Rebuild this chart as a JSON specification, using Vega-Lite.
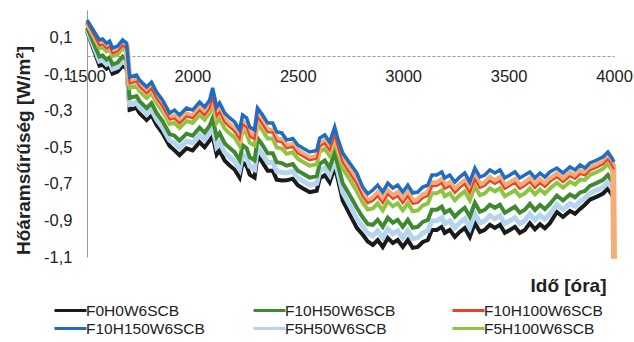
{
"$schema": "https://vega.github.io/schema/vega-lite/v6.json",
"autosize": {"type": "none"},
"padding": {"left": 87, "top": 10, "right": 20, "bottom": 85},
"width": 527,
"height": 247,
"background": "white",
"config": {"font": "Liberation Sans", "view": {"stroke": null}},
"datasets": {
"b": [{"x":1500,"y":0.195},{"x":1559,"y":0.086},{"x":1574,"y":0.091},{"x":1593,"y":0.069},{"x":1607,"y":0.080},{"x":1621,"y":0.042},{"x":1645,"y":0.053},{"x":1669,"y":0.086},{"x":1688,"y":0.069},{"x":1702,"y":-0.116},{"x":1735,"y":-0.105},{"x":1749,"y":-0.133},{"x":1783,"y":-0.171},{"x":1806,"y":-0.144},{"x":1830,"y":-0.198},{"x":1858,"y":-0.242},{"x":1892,"y":-0.313},{"x":1915,"y":-0.297},{"x":1939,"y":-0.324},{"x":1972,"y":-0.286},{"x":2001,"y":-0.297},{"x":2034,"y":-0.253},{"x":2058,"y":-0.280},{"x":2082,"y":-0.242},{"x":2096,"y":-0.176},{"x":2115,"y":-0.280},{"x":2129,"y":-0.258},{"x":2153,"y":-0.313},{"x":2177,"y":-0.340},{"x":2200,"y":-0.362},{"x":2224,"y":-0.406},{"x":2238,"y":-0.324},{"x":2257,"y":-0.340},{"x":2272,"y":-0.390},{"x":2295,"y":-0.406},{"x":2309,"y":-0.286},{"x":2333,"y":-0.324},{"x":2357,"y":-0.368},{"x":2381,"y":-0.368},{"x":2400,"y":-0.417},{"x":2424,"y":-0.422},{"x":2447,"y":-0.461},{"x":2476,"y":-0.452},{"x":2500,"y":-0.488},{"x":2523,"y":-0.504},{"x":2556,"y":-0.526},{"x":2590,"y":-0.518},{"x":2604,"y":-0.450},{"x":2628,"y":-0.433},{"x":2651,"y":-0.472},{"x":2675,"y":-0.390},{"x":2689,"y":-0.450},{"x":2713,"y":-0.532},{"x":2746,"y":-0.586},{"x":2780,"y":-0.641},{"x":2808,"y":-0.718},{"x":2832,"y":-0.755},{"x":2856,"y":-0.734},{"x":2879,"y":-0.707},{"x":2903,"y":-0.745},{"x":2927,"y":-0.696},{"x":2951,"y":-0.723},{"x":2974,"y":-0.707},{"x":2998,"y":-0.745},{"x":3022,"y":-0.707},{"x":3045,"y":-0.750},{"x":3069,"y":-0.745},{"x":3093,"y":-0.718},{"x":3117,"y":-0.707},{"x":3136,"y":-0.652},{"x":3159,"y":-0.652},{"x":3183,"y":-0.635},{"x":3197,"y":-0.668},{"x":3221,"y":-0.652},{"x":3245,"y":-0.690},{"x":3268,"y":-0.663},{"x":3292,"y":-0.641},{"x":3316,"y":-0.690},{"x":3340,"y":-0.614},{"x":3364,"y":-0.663},{"x":3387,"y":-0.652},{"x":3411,"y":-0.624},{"x":3435,"y":-0.641},{"x":3459,"y":-0.624},{"x":3482,"y":-0.668},{"x":3506,"y":-0.652},{"x":3530,"y":-0.635},{"x":3553,"y":-0.668},{"x":3577,"y":-0.652},{"x":3601,"y":-0.635},{"x":3625,"y":-0.668},{"x":3649,"y":-0.641},{"x":3672,"y":-0.663},{"x":3696,"y":-0.635},{"x":3729,"y":-0.614},{"x":3758,"y":-0.641},{"x":3791,"y":-0.608},{"x":3815,"y":-0.624},{"x":3839,"y":-0.597},{"x":3862,"y":-0.614},{"x":3886,"y":-0.586},{"x":3919,"y":-0.570},{"x":3948,"y":-0.553},{"x":3971,"y":-0.526},{"x":3990,"y":-0.559},{"x":4000,"y":-0.581}],
"p": [{"x":1500,"y":0.185},{"x":1559,"y":0.066},{"x":1574,"y":0.071},{"x":1593,"y":0.049},{"x":1607,"y":0.060},{"x":1621,"y":0.022},{"x":1645,"y":0.033},{"x":1669,"y":0.066},{"x":1688,"y":0.049},{"x":1702,"y":-0.146},{"x":1735,"y":-0.135},{"x":1749,"y":-0.163},{"x":1783,"y":-0.201},{"x":1806,"y":-0.174},{"x":1830,"y":-0.228},{"x":1858,"y":-0.272},{"x":1892,"y":-0.343},{"x":1915,"y":-0.332},{"x":1939,"y":-0.359},{"x":1972,"y":-0.321},{"x":2001,"y":-0.332},{"x":2034,"y":-0.288},{"x":2058,"y":-0.315},{"x":2082,"y":-0.277},{"x":2096,"y":-0.216},{"x":2115,"y":-0.320},{"x":2129,"y":-0.298},{"x":2153,"y":-0.353},{"x":2177,"y":-0.380},{"x":2200,"y":-0.402},{"x":2224,"y":-0.446},{"x":2238,"y":-0.364},{"x":2257,"y":-0.380},{"x":2272,"y":-0.430},{"x":2295,"y":-0.446},{"x":2309,"y":-0.326},{"x":2333,"y":-0.364},{"x":2357,"y":-0.408},{"x":2381,"y":-0.408},{"x":2400,"y":-0.457},{"x":2424,"y":-0.462},{"x":2447,"y":-0.496},{"x":2476,"y":-0.487},{"x":2500,"y":-0.523},{"x":2523,"y":-0.539},{"x":2556,"y":-0.561},{"x":2590,"y":-0.553},{"x":2604,"y":-0.485},{"x":2628,"y":-0.468},{"x":2651,"y":-0.507},{"x":2675,"y":-0.425},{"x":2689,"y":-0.485},{"x":2713,"y":-0.572},{"x":2746,"y":-0.626},{"x":2780,"y":-0.686},{"x":2808,"y":-0.758},{"x":2832,"y":-0.795},{"x":2856,"y":-0.779},{"x":2879,"y":-0.752},{"x":2903,"y":-0.790},{"x":2927,"y":-0.741},{"x":2951,"y":-0.768},{"x":2974,"y":-0.752},{"x":2998,"y":-0.790},{"x":3022,"y":-0.752},{"x":3045,"y":-0.795},{"x":3069,"y":-0.790},{"x":3093,"y":-0.763},{"x":3117,"y":-0.752},{"x":3136,"y":-0.697},{"x":3159,"y":-0.697},{"x":3183,"y":-0.680},{"x":3197,"y":-0.713},{"x":3221,"y":-0.697},{"x":3245,"y":-0.735},{"x":3268,"y":-0.708},{"x":3292,"y":-0.686},{"x":3316,"y":-0.735},{"x":3340,"y":-0.659},{"x":3364,"y":-0.708},{"x":3387,"y":-0.697},{"x":3411,"y":-0.669},{"x":3435,"y":-0.686},{"x":3459,"y":-0.669},{"x":3482,"y":-0.713},{"x":3506,"y":-0.697},{"x":3530,"y":-0.680},{"x":3553,"y":-0.713},{"x":3577,"y":-0.697},{"x":3601,"y":-0.675},{"x":3625,"y":-0.708},{"x":3649,"y":-0.681},{"x":3672,"y":-0.703},{"x":3696,"y":-0.675},{"x":3729,"y":-0.649},{"x":3758,"y":-0.676},{"x":3791,"y":-0.643},{"x":3815,"y":-0.659},{"x":3839,"y":-0.632},{"x":3862,"y":-0.644},{"x":3886,"y":-0.616},{"x":3919,"y":-0.600},{"x":3948,"y":-0.583},{"x":3971,"y":-0.556},{"x":3990,"y":-0.589},{"x":3996,"y":-0.600},{"x":4000,"y":-1.11}],
"r": [{"x":1500,"y":0.183},{"x":1559,"y":0.056},{"x":1574,"y":0.061},{"x":1593,"y":0.039},{"x":1607,"y":0.050},{"x":1621,"y":0.012},{"x":1645,"y":0.023},{"x":1669,"y":0.056},{"x":1688,"y":0.039},{"x":1702,"y":-0.151},{"x":1735,"y":-0.140},{"x":1749,"y":-0.168},{"x":1783,"y":-0.206},{"x":1806,"y":-0.179},{"x":1830,"y":-0.233},{"x":1858,"y":-0.277},{"x":1892,"y":-0.348},{"x":1915,"y":-0.342},{"x":1939,"y":-0.369},{"x":1972,"y":-0.331},{"x":2001,"y":-0.342},{"x":2034,"y":-0.298},{"x":2058,"y":-0.325},{"x":2082,"y":-0.287},{"x":2096,"y":-0.226},{"x":2115,"y":-0.330},{"x":2129,"y":-0.308},{"x":2153,"y":-0.363},{"x":2177,"y":-0.390},{"x":2200,"y":-0.412},{"x":2224,"y":-0.456},{"x":2238,"y":-0.374},{"x":2257,"y":-0.390},{"x":2272,"y":-0.440},{"x":2295,"y":-0.456},{"x":2309,"y":-0.336},{"x":2333,"y":-0.374},{"x":2357,"y":-0.418},{"x":2381,"y":-0.418},{"x":2400,"y":-0.467},{"x":2424,"y":-0.472},{"x":2447,"y":-0.506},{"x":2476,"y":-0.497},{"x":2500,"y":-0.533},{"x":2523,"y":-0.549},{"x":2556,"y":-0.571},{"x":2590,"y":-0.563},{"x":2604,"y":-0.495},{"x":2628,"y":-0.478},{"x":2651,"y":-0.517},{"x":2675,"y":-0.435},{"x":2689,"y":-0.495},{"x":2713,"y":-0.582},{"x":2746,"y":-0.641},{"x":2780,"y":-0.701},{"x":2808,"y":-0.768},{"x":2832,"y":-0.805},{"x":2856,"y":-0.794},{"x":2879,"y":-0.767},{"x":2903,"y":-0.805},{"x":2927,"y":-0.756},{"x":2951,"y":-0.783},{"x":2974,"y":-0.767},{"x":2998,"y":-0.805},{"x":3022,"y":-0.767},{"x":3045,"y":-0.810},{"x":3069,"y":-0.805},{"x":3093,"y":-0.778},{"x":3117,"y":-0.767},{"x":3136,"y":-0.712},{"x":3159,"y":-0.712},{"x":3183,"y":-0.695},{"x":3197,"y":-0.728},{"x":3221,"y":-0.712},{"x":3245,"y":-0.750},{"x":3268,"y":-0.723},{"x":3292,"y":-0.701},{"x":3316,"y":-0.750},{"x":3340,"y":-0.674},{"x":3364,"y":-0.723},{"x":3387,"y":-0.712},{"x":3411,"y":-0.684},{"x":3435,"y":-0.701},{"x":3459,"y":-0.684},{"x":3482,"y":-0.728},{"x":3506,"y":-0.712},{"x":3530,"y":-0.695},{"x":3553,"y":-0.728},{"x":3577,"y":-0.712},{"x":3601,"y":-0.690},{"x":3625,"y":-0.723},{"x":3649,"y":-0.696},{"x":3672,"y":-0.718},{"x":3696,"y":-0.690},{"x":3729,"y":-0.664},{"x":3758,"y":-0.691},{"x":3791,"y":-0.658},{"x":3815,"y":-0.674},{"x":3839,"y":-0.647},{"x":3862,"y":-0.654},{"x":3886,"y":-0.626},{"x":3919,"y":-0.610},{"x":3948,"y":-0.593},{"x":3971,"y":-0.566},{"x":3990,"y":-0.599},{"x":4000,"y":-0.621}],
"g": [{"x":1500,"y":0.175},{"x":1559,"y":0.041},{"x":1574,"y":0.046},{"x":1593,"y":0.024},{"x":1607,"y":0.035},{"x":1621,"y":-0.003},{"x":1645,"y":0.008},{"x":1669,"y":0.041},{"x":1688,"y":0.024},{"x":1702,"y":-0.176},{"x":1735,"y":-0.165},{"x":1749,"y":-0.193},{"x":1783,"y":-0.231},{"x":1806,"y":-0.204},{"x":1830,"y":-0.258},{"x":1858,"y":-0.302},{"x":1892,"y":-0.373},{"x":1915,"y":-0.367},{"x":1939,"y":-0.394},{"x":1972,"y":-0.356},{"x":2001,"y":-0.367},{"x":2034,"y":-0.323},{"x":2058,"y":-0.350},{"x":2082,"y":-0.312},{"x":2096,"y":-0.261},{"x":2115,"y":-0.365},{"x":2129,"y":-0.343},{"x":2153,"y":-0.398},{"x":2177,"y":-0.425},{"x":2200,"y":-0.447},{"x":2224,"y":-0.491},{"x":2238,"y":-0.409},{"x":2257,"y":-0.425},{"x":2272,"y":-0.475},{"x":2295,"y":-0.491},{"x":2309,"y":-0.371},{"x":2333,"y":-0.409},{"x":2357,"y":-0.453},{"x":2381,"y":-0.453},{"x":2400,"y":-0.502},{"x":2424,"y":-0.507},{"x":2447,"y":-0.536},{"x":2476,"y":-0.527},{"x":2500,"y":-0.563},{"x":2523,"y":-0.579},{"x":2556,"y":-0.601},{"x":2590,"y":-0.593},{"x":2604,"y":-0.525},{"x":2628,"y":-0.508},{"x":2651,"y":-0.547},{"x":2675,"y":-0.465},{"x":2689,"y":-0.525},{"x":2713,"y":-0.617},{"x":2746,"y":-0.676},{"x":2780,"y":-0.741},{"x":2808,"y":-0.803},{"x":2832,"y":-0.840},{"x":2856,"y":-0.834},{"x":2879,"y":-0.807},{"x":2903,"y":-0.845},{"x":2927,"y":-0.796},{"x":2951,"y":-0.823},{"x":2974,"y":-0.807},{"x":2998,"y":-0.845},{"x":3022,"y":-0.807},{"x":3045,"y":-0.850},{"x":3069,"y":-0.845},{"x":3093,"y":-0.818},{"x":3117,"y":-0.807},{"x":3136,"y":-0.752},{"x":3159,"y":-0.752},{"x":3183,"y":-0.735},{"x":3197,"y":-0.768},{"x":3221,"y":-0.752},{"x":3245,"y":-0.790},{"x":3268,"y":-0.763},{"x":3292,"y":-0.741},{"x":3316,"y":-0.790},{"x":3340,"y":-0.714},{"x":3364,"y":-0.763},{"x":3387,"y":-0.752},{"x":3411,"y":-0.724},{"x":3435,"y":-0.741},{"x":3459,"y":-0.724},{"x":3482,"y":-0.768},{"x":3506,"y":-0.752},{"x":3530,"y":-0.735},{"x":3553,"y":-0.768},{"x":3577,"y":-0.752},{"x":3601,"y":-0.725},{"x":3625,"y":-0.758},{"x":3649,"y":-0.731},{"x":3672,"y":-0.753},{"x":3696,"y":-0.725},{"x":3729,"y":-0.694},{"x":3758,"y":-0.721},{"x":3791,"y":-0.688},{"x":3815,"y":-0.704},{"x":3839,"y":-0.677},{"x":3862,"y":-0.679},{"x":3886,"y":-0.651},{"x":3919,"y":-0.635},{"x":3948,"y":-0.618},{"x":3971,"y":-0.591},{"x":3990,"y":-0.624},{"x":4000,"y":-0.646}],
"d": [{"x":1500,"y":0.155},{"x":1559,"y":-0.004},{"x":1574,"y":0.001},{"x":1593,"y":-0.021},{"x":1607,"y":-0.010},{"x":1621,"y":-0.048},{"x":1645,"y":-0.037},{"x":1669,"y":-0.004},{"x":1688,"y":-0.021},{"x":1702,"y":-0.231},{"x":1735,"y":-0.220},{"x":1749,"y":-0.248},{"x":1783,"y":-0.286},{"x":1806,"y":-0.259},{"x":1830,"y":-0.313},{"x":1858,"y":-0.357},{"x":1892,"y":-0.428},{"x":1915,"y":-0.437},{"x":1939,"y":-0.464},{"x":1972,"y":-0.426},{"x":2001,"y":-0.437},{"x":2034,"y":-0.393},{"x":2058,"y":-0.420},{"x":2082,"y":-0.382},{"x":2096,"y":-0.341},{"x":2115,"y":-0.445},{"x":2129,"y":-0.423},{"x":2153,"y":-0.478},{"x":2177,"y":-0.505},{"x":2200,"y":-0.527},{"x":2224,"y":-0.571},{"x":2238,"y":-0.489},{"x":2257,"y":-0.505},{"x":2272,"y":-0.555},{"x":2295,"y":-0.571},{"x":2309,"y":-0.451},{"x":2333,"y":-0.489},{"x":2357,"y":-0.533},{"x":2381,"y":-0.533},{"x":2400,"y":-0.582},{"x":2424,"y":-0.587},{"x":2447,"y":-0.601},{"x":2476,"y":-0.592},{"x":2500,"y":-0.628},{"x":2523,"y":-0.644},{"x":2556,"y":-0.666},{"x":2590,"y":-0.658},{"x":2604,"y":-0.590},{"x":2628,"y":-0.573},{"x":2651,"y":-0.612},{"x":2675,"y":-0.530},{"x":2689,"y":-0.590},{"x":2713,"y":-0.697},{"x":2746,"y":-0.761},{"x":2780,"y":-0.831},{"x":2808,"y":-0.883},{"x":2832,"y":-0.920},{"x":2856,"y":-0.924},{"x":2879,"y":-0.897},{"x":2903,"y":-0.935},{"x":2927,"y":-0.886},{"x":2951,"y":-0.913},{"x":2974,"y":-0.897},{"x":2998,"y":-0.935},{"x":3022,"y":-0.897},{"x":3045,"y":-0.940},{"x":3069,"y":-0.935},{"x":3093,"y":-0.908},{"x":3117,"y":-0.897},{"x":3136,"y":-0.842},{"x":3159,"y":-0.842},{"x":3183,"y":-0.825},{"x":3197,"y":-0.858},{"x":3221,"y":-0.842},{"x":3245,"y":-0.880},{"x":3268,"y":-0.853},{"x":3292,"y":-0.831},{"x":3316,"y":-0.880},{"x":3340,"y":-0.804},{"x":3364,"y":-0.853},{"x":3387,"y":-0.842},{"x":3411,"y":-0.814},{"x":3435,"y":-0.831},{"x":3459,"y":-0.814},{"x":3482,"y":-0.858},{"x":3506,"y":-0.842},{"x":3530,"y":-0.825},{"x":3553,"y":-0.858},{"x":3577,"y":-0.842},{"x":3601,"y":-0.810},{"x":3625,"y":-0.843},{"x":3649,"y":-0.816},{"x":3672,"y":-0.838},{"x":3696,"y":-0.810},{"x":3729,"y":-0.764},{"x":3758,"y":-0.791},{"x":3791,"y":-0.758},{"x":3815,"y":-0.774},{"x":3839,"y":-0.747},{"x":3862,"y":-0.739},{"x":3886,"y":-0.711},{"x":3919,"y":-0.695},{"x":3948,"y":-0.678},{"x":3971,"y":-0.651},{"x":3990,"y":-0.684},{"x":4000,"y":-0.706}],
"l": [{"x":1500,"y":0.145},{"x":1559,"y":-0.029},{"x":1574,"y":-0.024},{"x":1593,"y":-0.046},{"x":1607,"y":-0.035},{"x":1621,"y":-0.073},{"x":1645,"y":-0.062},{"x":1669,"y":-0.029},{"x":1688,"y":-0.046},{"x":1702,"y":-0.266},{"x":1735,"y":-0.255},{"x":1749,"y":-0.283},{"x":1783,"y":-0.321},{"x":1806,"y":-0.294},{"x":1830,"y":-0.348},{"x":1858,"y":-0.392},{"x":1892,"y":-0.463},{"x":1915,"y":-0.477},{"x":1939,"y":-0.504},{"x":1972,"y":-0.466},{"x":2001,"y":-0.477},{"x":2034,"y":-0.433},{"x":2058,"y":-0.460},{"x":2082,"y":-0.422},{"x":2096,"y":-0.391},{"x":2115,"y":-0.495},{"x":2129,"y":-0.473},{"x":2153,"y":-0.528},{"x":2177,"y":-0.555},{"x":2200,"y":-0.577},{"x":2224,"y":-0.621},{"x":2238,"y":-0.539},{"x":2257,"y":-0.555},{"x":2272,"y":-0.605},{"x":2295,"y":-0.621},{"x":2309,"y":-0.501},{"x":2333,"y":-0.539},{"x":2357,"y":-0.583},{"x":2381,"y":-0.583},{"x":2400,"y":-0.632},{"x":2424,"y":-0.637},{"x":2447,"y":-0.641},{"x":2476,"y":-0.632},{"x":2500,"y":-0.668},{"x":2523,"y":-0.684},{"x":2556,"y":-0.706},{"x":2590,"y":-0.698},{"x":2604,"y":-0.630},{"x":2628,"y":-0.613},{"x":2651,"y":-0.652},{"x":2675,"y":-0.570},{"x":2689,"y":-0.630},{"x":2713,"y":-0.747},{"x":2746,"y":-0.816},{"x":2780,"y":-0.891},{"x":2808,"y":-0.933},{"x":2832,"y":-0.970},{"x":2856,"y":-0.984},{"x":2879,"y":-0.957},{"x":2903,"y":-0.995},{"x":2927,"y":-0.946},{"x":2951,"y":-0.973},{"x":2974,"y":-0.957},{"x":2998,"y":-0.995},{"x":3022,"y":-0.957},{"x":3045,"y":-1.000},{"x":3069,"y":-0.995},{"x":3093,"y":-0.968},{"x":3117,"y":-0.957},{"x":3136,"y":-0.902},{"x":3159,"y":-0.902},{"x":3183,"y":-0.885},{"x":3197,"y":-0.918},{"x":3221,"y":-0.902},{"x":3245,"y":-0.940},{"x":3268,"y":-0.913},{"x":3292,"y":-0.891},{"x":3316,"y":-0.940},{"x":3340,"y":-0.864},{"x":3364,"y":-0.913},{"x":3387,"y":-0.902},{"x":3411,"y":-0.874},{"x":3435,"y":-0.891},{"x":3459,"y":-0.874},{"x":3482,"y":-0.918},{"x":3506,"y":-0.902},{"x":3530,"y":-0.885},{"x":3553,"y":-0.918},{"x":3577,"y":-0.902},{"x":3601,"y":-0.865},{"x":3625,"y":-0.898},{"x":3649,"y":-0.871},{"x":3672,"y":-0.893},{"x":3696,"y":-0.865},{"x":3729,"y":-0.814},{"x":3758,"y":-0.841},{"x":3791,"y":-0.808},{"x":3815,"y":-0.824},{"x":3839,"y":-0.797},{"x":3862,"y":-0.779},{"x":3886,"y":-0.751},{"x":3919,"y":-0.735},{"x":3948,"y":-0.718},{"x":3971,"y":-0.691},{"x":3990,"y":-0.724},{"x":4000,"y":-0.746}],
"k": [{"x":1500,"y":0.135},{"x":1559,"y":-0.054},{"x":1574,"y":-0.049},{"x":1593,"y":-0.071},{"x":1607,"y":-0.060},{"x":1621,"y":-0.098},{"x":1645,"y":-0.087},{"x":1669,"y":-0.054},{"x":1688,"y":-0.071},{"x":1702,"y":-0.296},{"x":1735,"y":-0.285},{"x":1749,"y":-0.313},{"x":1783,"y":-0.351},{"x":1806,"y":-0.324},{"x":1830,"y":-0.378},{"x":1858,"y":-0.422},{"x":1892,"y":-0.493},{"x":1915,"y":-0.517},{"x":1939,"y":-0.544},{"x":1972,"y":-0.506},{"x":2001,"y":-0.517},{"x":2034,"y":-0.473},{"x":2058,"y":-0.500},{"x":2082,"y":-0.462},{"x":2096,"y":-0.436},{"x":2115,"y":-0.540},{"x":2129,"y":-0.518},{"x":2153,"y":-0.573},{"x":2177,"y":-0.600},{"x":2200,"y":-0.622},{"x":2224,"y":-0.666},{"x":2238,"y":-0.584},{"x":2257,"y":-0.600},{"x":2272,"y":-0.650},{"x":2295,"y":-0.666},{"x":2309,"y":-0.546},{"x":2333,"y":-0.584},{"x":2357,"y":-0.628},{"x":2381,"y":-0.628},{"x":2400,"y":-0.677},{"x":2424,"y":-0.682},{"x":2447,"y":-0.681},{"x":2476,"y":-0.672},{"x":2500,"y":-0.708},{"x":2523,"y":-0.724},{"x":2556,"y":-0.746},{"x":2590,"y":-0.738},{"x":2604,"y":-0.670},{"x":2628,"y":-0.653},{"x":2651,"y":-0.692},{"x":2675,"y":-0.610},{"x":2689,"y":-0.670},{"x":2713,"y":-0.792},{"x":2746,"y":-0.866},{"x":2780,"y":-0.941},{"x":2808,"y":-0.978},{"x":2832,"y":-1.015},{"x":2856,"y":-1.034},{"x":2879,"y":-1.007},{"x":2903,"y":-1.045},{"x":2927,"y":-0.996},{"x":2951,"y":-1.023},{"x":2974,"y":-1.007},{"x":2998,"y":-1.045},{"x":3022,"y":-1.007},{"x":3045,"y":-1.050},{"x":3069,"y":-1.045},{"x":3093,"y":-1.018},{"x":3117,"y":-1.007},{"x":3136,"y":-0.952},{"x":3159,"y":-0.952},{"x":3183,"y":-0.935},{"x":3197,"y":-0.968},{"x":3221,"y":-0.952},{"x":3245,"y":-0.990},{"x":3268,"y":-0.963},{"x":3292,"y":-0.941},{"x":3316,"y":-0.990},{"x":3340,"y":-0.914},{"x":3364,"y":-0.963},{"x":3387,"y":-0.952},{"x":3411,"y":-0.924},{"x":3435,"y":-0.941},{"x":3459,"y":-0.924},{"x":3482,"y":-0.968},{"x":3506,"y":-0.952},{"x":3530,"y":-0.935},{"x":3553,"y":-0.968},{"x":3577,"y":-0.952},{"x":3601,"y":-0.915},{"x":3625,"y":-0.948},{"x":3649,"y":-0.921},{"x":3672,"y":-0.943},{"x":3696,"y":-0.915},{"x":3729,"y":-0.854},{"x":3758,"y":-0.881},{"x":3791,"y":-0.848},{"x":3815,"y":-0.864},{"x":3839,"y":-0.837},{"x":3862,"y":-0.814},{"x":3886,"y":-0.786},{"x":3919,"y":-0.770},{"x":3948,"y":-0.753},{"x":3971,"y":-0.726},{"x":3990,"y":-0.759},{"x":4000,"y":-0.781}]
},
"encoding": {
"x": {"field": "x", "type": "quantitative",
 "scale": {"domain": [1500, 4000], "nice": false, "zero": false},
 "axis": {"title": "Idő [óra]", "values": [1500, 2000, 2500, 3000, 3500, 4000], "format": "d", "offset": -201, "grid": false, "ticks": false, "tickSize": 0, "domainColor": "#999999", "domainWidth": 1, "domainDash": [3, 2], "labelFontSize": 16.5, "labelPadding": 12, "labelColor": "#222222", "labelFlush": false, "labelOverlap": false, "titleFontSize": 19, "titleFontWeight": "bold", "titleColor": "#222222", "titleX": 519, "titleY": 229, "titleAlign": "right", "titleBaseline": "middle"}},
"y": {"field": "y", "type": "quantitative",
 "scale": {"domain": [-1.1, 0.25], "nice": false, "zero": false},
 "axis": {"title": "Hőáramsűrűség [W/m²]", "values": [-1.1, -0.9, -0.7, -0.5, -0.3, -0.1, 0.1], "labelExpr": "replace(toString(datum.value), '.', ',')", "grid": false, "ticks": false, "tickSize": 0, "domainColor": "#999999", "domainWidth": 1, "labelFontSize": 16.5, "labelPadding": 15, "labelColor": "#222222", "titleFontSize": 19, "titleFontWeight": "bold", "titleColor": "#222222", "titleX": -64, "titleY": 140, "titleAngle": 270, "titleAlign": "center", "titleBaseline": "middle"}}
},
"layer": [
{"data": {"name": "k"}, "mark": {"type": "line", "strokeWidth": 4},
 "encoding": {"color": {"datum": "F0H0W6SCB", "type": "nominal",
  "scale": {"domain": ["F0H0W6SCB", "F10H150W6SCB", "F10H50W6SCB", "F5H50W6SCB", "F10H100W6SCB", "F5H100W6SCB"], "range": ["#1a1a1a", "#1f6cc4", "#3f8a30", "#b5d5ee", "#e8402a", "#8cc640"]},
  "legend": {"orient": "none", "legendX": -26, "legendY": 291, "columns": 3, "title": null, "symbolType": "M-2,0H2", "symbolSize": 256, "symbolStrokeWidth": 3, "labelFontSize": 15.5, "labelOffset": 6, "labelColor": "#222222", "columnPadding": 42, "rowPadding": 0, "gridAlign": "all", "padding": 0, "labelLimit": 200}}}},
{"data": {"name": "l"}, "mark": {"type": "line", "strokeWidth": 5}, "encoding": {"color": {"datum": "F5H50W6SCB", "type": "nominal"}}},
{"data": {"name": "d"}, "mark": {"type": "line", "strokeWidth": 4}, "encoding": {"color": {"datum": "F10H50W6SCB", "type": "nominal"}}},
{"data": {"name": "g"}, "mark": {"type": "line", "strokeWidth": 4}, "encoding": {"color": {"datum": "F5H100W6SCB", "type": "nominal"}}},
{"data": {"name": "p"}, "mark": {"type": "line", "strokeWidth": 6, "color": "#f5ad78"}, "encoding": {}},
{"data": {"name": "r"}, "mark": {"type": "line", "strokeWidth": 2}, "encoding": {"color": {"datum": "F10H100W6SCB", "type": "nominal"}}},
{"data": {"name": "b"}, "mark": {"type": "line", "strokeWidth": 3.5}, "encoding": {"color": {"datum": "F10H150W6SCB", "type": "nominal"}}}
]
}
